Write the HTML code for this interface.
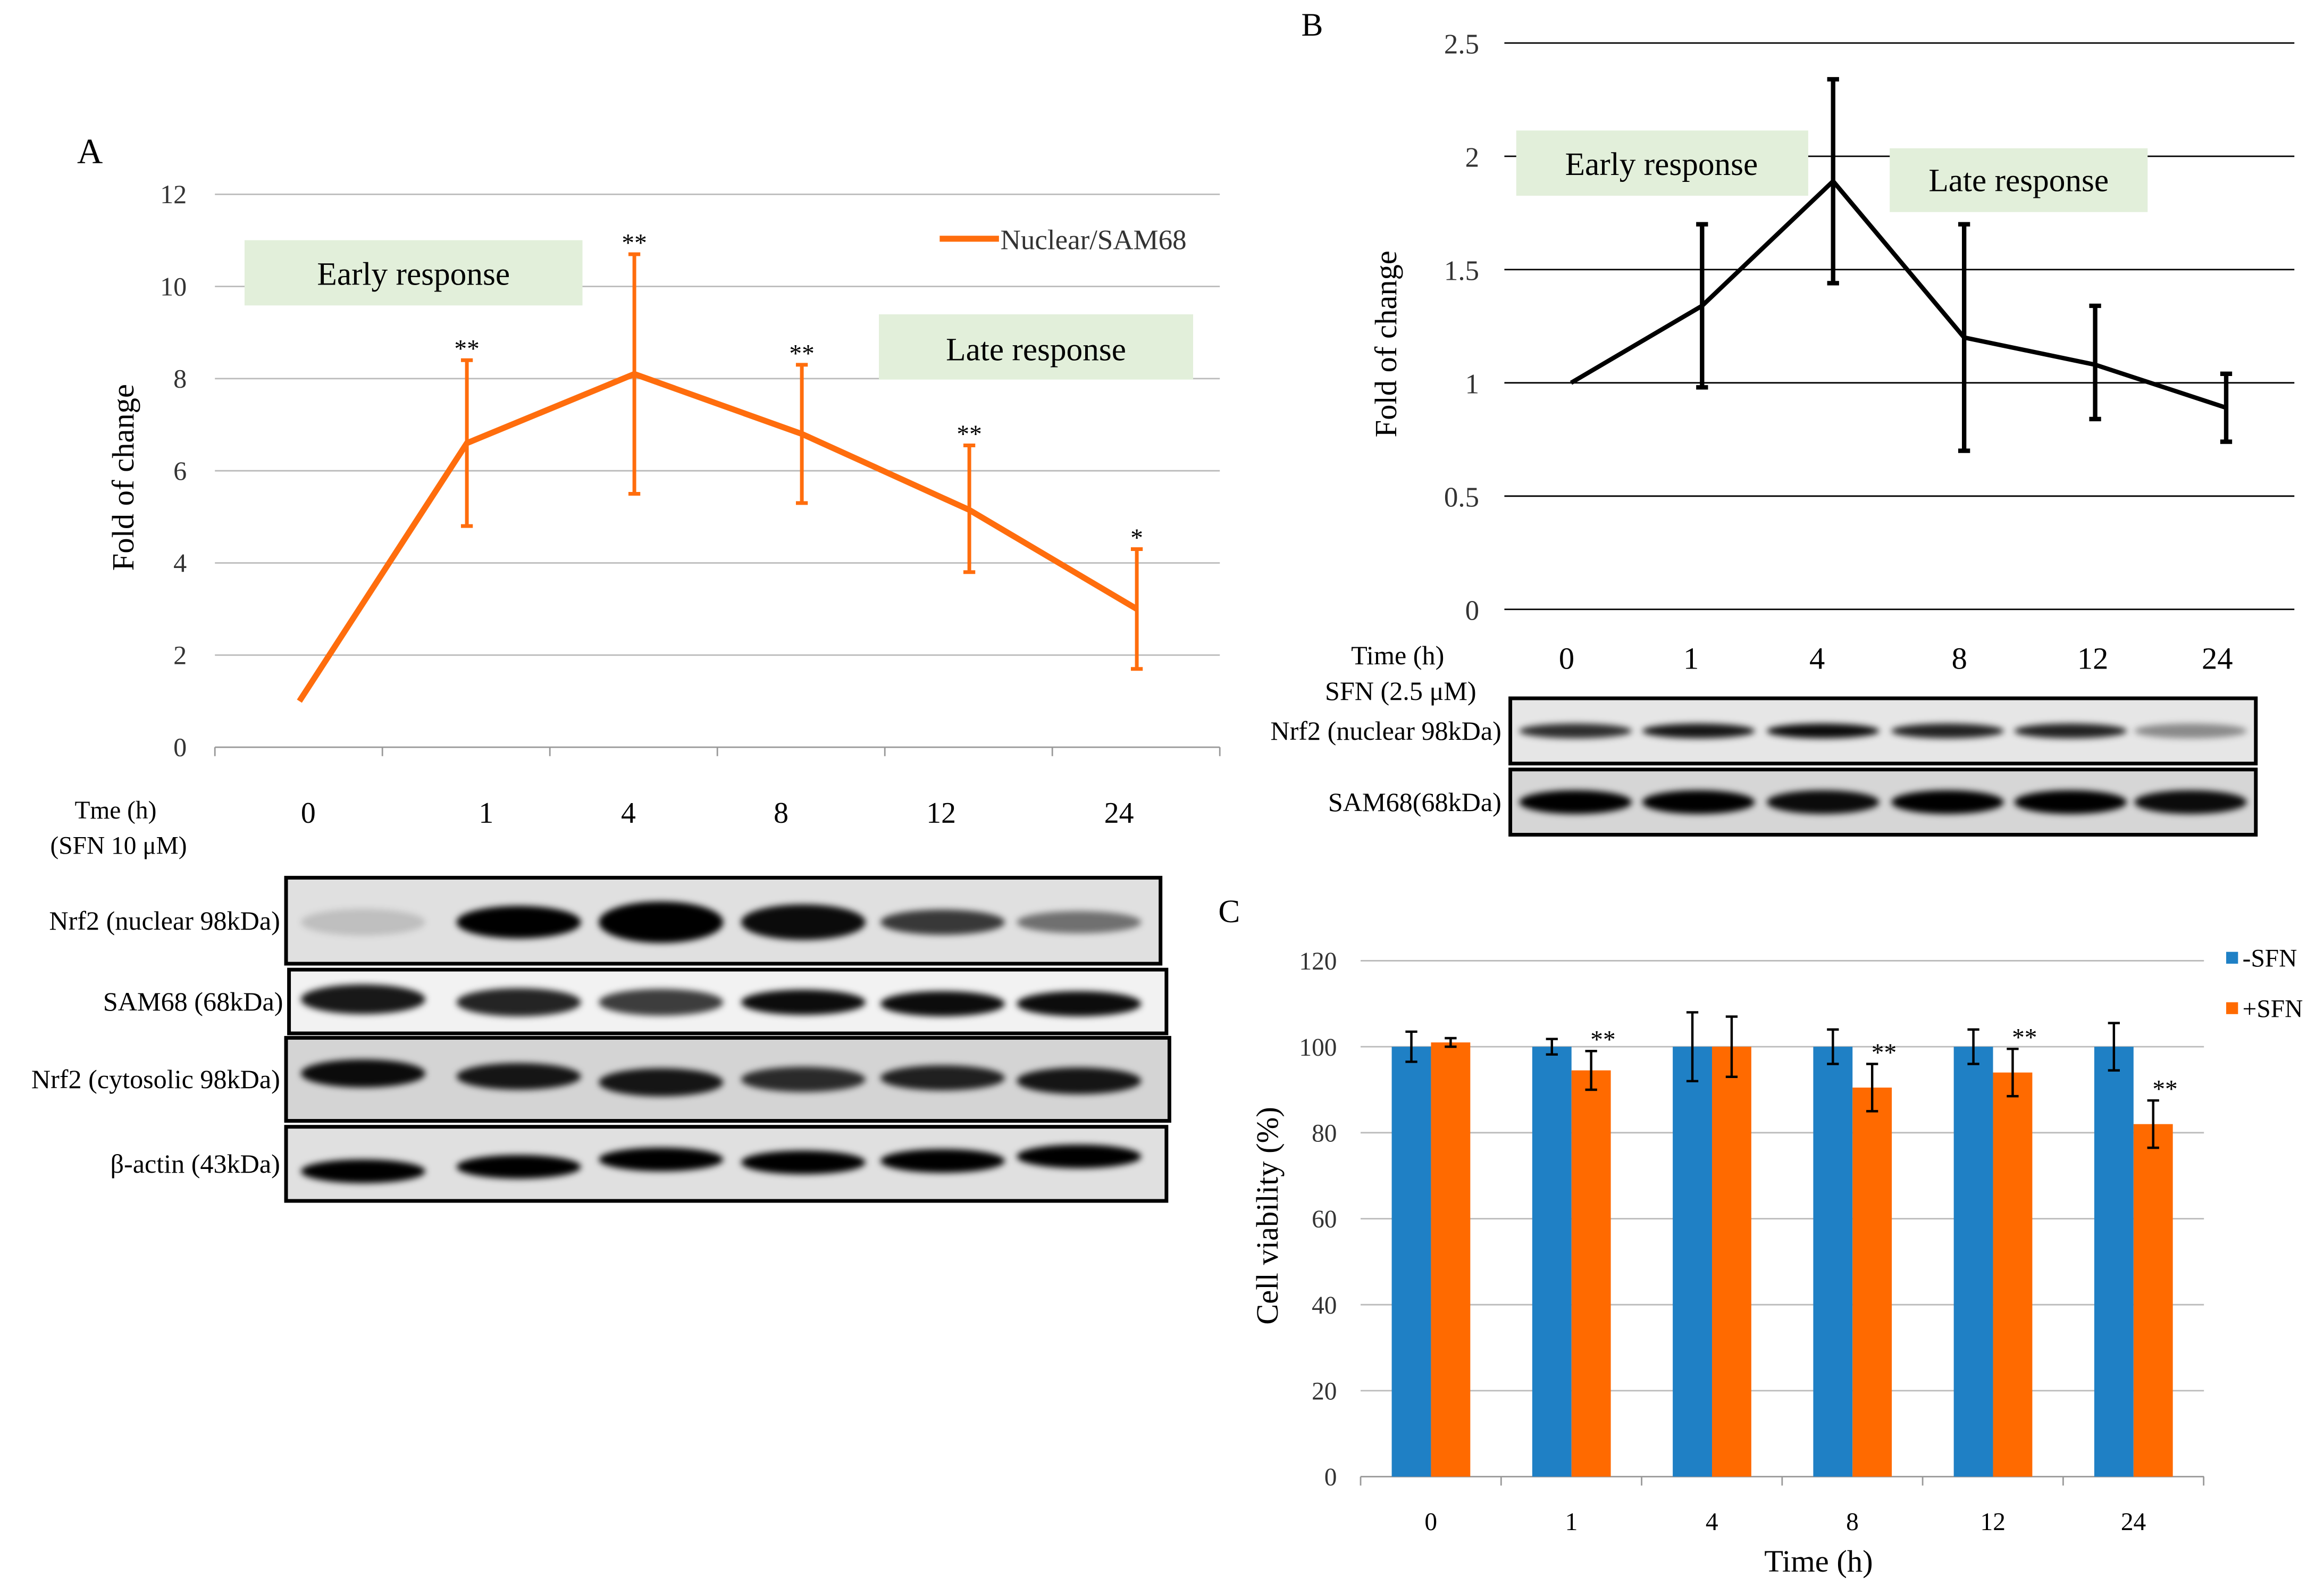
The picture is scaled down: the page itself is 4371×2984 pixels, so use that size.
<!DOCTYPE html>
<html><head><meta charset="utf-8"><style>
html,body{margin:0;padding:0;background:#fff;}
svg{display:block;font-family:"Liberation Serif",serif;}
</style></head><body>
<svg id="fig" width="4371" height="2984" viewBox="0 0 1568 1070.4" xmlns="http://www.w3.org/2000/svg">
<defs><filter id="blur" x="-20%" y="-50%" width="140%" height="200%"><feGaussianBlur stdDeviation="2.2"/></filter></defs>
<rect width="1568" height="1071" fill="#fff"/>
<g id="A"></g>
<g id="B"></g>
<g id="C"></g>
</svg>
<script>
// ---------- Panel A data ----------
const aCats = ["0","1","4","8","12","24"];
const aVals = [1, 6.6, 8.1, 6.8, 5.15, 3.0];
const aUp = [null, 8.4, 10.7, 8.3, 6.55, 4.3];
const aLo = [null, 4.8, 5.5, 5.3, 3.8, 1.7];
const aStars = ["", "**", "**", "**", "**", "*"];
const aTicks = [0,2,4,6,8,10,12];
const aBandsNuc = [0.15, 1, 1.1, 0.95, 0.75, 0.5];
// ---------- Panel B data ----------
const bCats = ["0","1","4","8","12","24"];
const bVals = [1, 1.34, 1.89, 1.2, 1.08, 0.89];
const bUp = [null, 1.7, 2.34, 1.7, 1.34, 1.04];
const bLo = [null, 0.98, 1.44, 0.7, 0.84, 0.74];
const bTicks = [0,0.5,1,1.5,2,2.5];
const bTickLabels = ["0","0.5","1","1.5","2","2.5"];
// ---------- Panel C data ----------
const cCats = ["0","1","4","8","12","24"];
const cMinus = [100,100,100,100,100,100];
const cMinusErr = [3.5,1.8,8,4,4,5.5];
const cPlus = [101,94.5,100,90.5,94,82];
const cPlusErr = [1,4.5,7,5.5,5.5,5.5];
const cStars = ["","**","","**","**","**"];
const cTicks = [0,20,40,60,80,100,120];

const NS="http://www.w3.org/2000/svg";
function mk(parent,tag,attrs,text){const e=document.createElementNS(NS,tag);for(const k in attrs)e.setAttribute(k,attrs[k]);if(text!==undefined)e.textContent=text;parent.appendChild(e);return e;}

// ===== Panel A =====
(function(){
const g=document.getElementById('A');
const y=v=>504-v*31.08, x=i=>202+i*113;
let t=mk(g,'text',{x:52,y:110,'font-size':24},'A');

aTicks.forEach(v=>{
 let l=mk(g,'line',{x1:145,x2:823,y1:y(v),y2:y(v),stroke:v===0?'#999':'#bbb','stroke-width':1});
 
 let tx=mk(g,'text',{x:126,y:y(v)+6,'font-size':18,'text-anchor':'end',fill:'#333'},String(v));
 
});
for(let i=0;i<=6;i++){let l=mk(g,'line',{x1:145+i*113,x2:145+i*113,y1:504,y2:510,stroke:'#999'});}
t=mk(g,'text',{x:0,y:0,'font-size':21,'text-anchor':'middle',transform:'translate(90,322) rotate(-90)'},'Fold of change');

let r=mk(g,'rect',{x:165,y:162,width:228,height:44,fill:'#e2efda'});
t=mk(g,'text',{x:279,y:192,'font-size':22,'text-anchor':'middle'},'Early response');
r=mk(g,'rect',{x:593,y:212,width:212,height:44,fill:'#e2efda'});
t=mk(g,'text',{x:699,y:243,'font-size':22,'text-anchor':'middle'},'Late response');
let l=mk(g,'line',{x1:634,x2:674,y1:161,y2:161,stroke:'#ff6d0d','stroke-width':4});
t=mk(g,'text',{x:675,y:168,'font-size':19,fill:'#333'},'Nuclear/SAM68');
let p=mk(g,'polyline',{points:aVals.map((v,i)=>x(i)+','+y(v)).join(' '),fill:'none',stroke:'#ff6d0d','stroke-width':4});

aVals.forEach((v,i)=>{
 if(aUp[i]==null)return;
 const xx=x(i);
 let e=mk(g,'path',{d:`M${xx} ${y(aUp[i])}V${y(aLo[i])}M${xx-4} ${y(aUp[i])}H${xx+4}M${xx-4} ${y(aLo[i])}H${xx+4}`,stroke:'#ff6d0d','stroke-width':2.5,fill:'none'});
 
 let s=mk(g,'text',{x:xx,y:y(aUp[i])-2,'font-size':17,'text-anchor':'middle'},aStars[i]);
 
});
const lx=[208,328,424,527,635,755];
aCats.forEach((c,i)=>{let s=mk(g,'text',{x:lx[i],y:555,'font-size':20,'text-anchor':'middle'},c);});
t=mk(g,'text',{x:78,y:552,'font-size':17,'text-anchor':'middle'},'Tme (h)');
t=mk(g,'text',{x:80,y:576,'font-size':17,'text-anchor':'middle'},'(SFN 10 μM)');
const blots=[
 {lab:'Nrf2 (nuclear 98kDa)',x:193,y:592,w:590,h:58,bg:'#e0e0e0',inten:aBandsNuc,cy:[30,30,30,30,30,30],bh:[14,18,24,20,13,11]},
 {lab:'SAM68   (68kDa)',x:195,y:654,w:592,h:43,bg:'#f2f2f2',inten:[0.9,0.85,0.75,0.95,0.95,0.95],cy:[20,22,22,22,23,23],bh:[16,15,14,13,13,13]},
 {lab:'Nrf2 (cytosolic 98kDa)',x:193,y:700,w:596,h:56,bg:'#d4d4d4',inten:[0.95,0.9,0.9,0.8,0.85,0.9],cy:[24,26,30,28,27,29],bh:[15,14,15,13,13,14]},
 {lab:'β-actin (43kDa)',x:193,y:760,w:594,h:50,bg:'#e0e0e0',inten:[1,1,1,1,1,1],cy:[30,27,22,24,23,20],bh:[12,12,12,12,12,12]}
];
const laneX=[245,350,446,542,636,728];
blots.forEach((b,bi)=>{
 let bx=mk(g,'rect',{x:b.x,y:b.y,width:b.w,height:b.h,fill:b.bg,stroke:'#000','stroke-width':2.5});
 
 b.inten.forEach((v,i)=>{let e=mk(g,'ellipse',{cx:laneX[i],cy:b.y+b.cy[i],rx:42,ry:b.bh[i]/2+2,fill:'#000','fill-opacity':v,filter:'url(#blur)'});
  });
 let s=mk(g,'text',{x:b.x-4,y:b.y+b.h/2+6,'font-size':18,'text-anchor':'end'},b.lab);
 
});
})();

// ===== Panel B =====
(function(){
const g=document.getElementById('B');
const y=v=>411-v*152.8, x=i=>1060+i*88.4;
let t=mk(g,'text',{x:878,y:24,'font-size':22},'B');
bTicks.forEach((v,k)=>{
 let l=mk(g,'line',{x1:1015,x2:1548,y1:y(v),y2:y(v),stroke:'#000','stroke-width':1});
 let s=mk(g,'text',{x:998,y:y(v)+7,'font-size':19,'text-anchor':'end',fill:'#333'},bTickLabels[k]);
});
t=mk(g,'text',{x:0,y:0,'font-size':21,'text-anchor':'middle',transform:'translate(942,232) rotate(-90)'},'Fold of change');
let r=mk(g,'rect',{x:1023,y:88,width:197,height:44,fill:'#e2efda'});
t=mk(g,'text',{x:1121,y:118,'font-size':22,'text-anchor':'middle'},'Early response');
r=mk(g,'rect',{x:1275,y:100,width:174,height:43,fill:'#e2efda'});
t=mk(g,'text',{x:1362,y:129,'font-size':22,'text-anchor':'middle'},'Late response');
let p=mk(g,'polyline',{points:bVals.map((v,i)=>x(i)+','+y(v)).join(' '),fill:'none',stroke:'#000','stroke-width':3});

bVals.forEach((v,i)=>{if(bUp[i]==null)return;const xx=x(i);
 let e=mk(g,'path',{d:`M${xx} ${y(bUp[i])}V${y(bLo[i])}M${xx-4} ${y(bUp[i])}H${xx+4}M${xx-4} ${y(bLo[i])}H${xx+4}`,stroke:'#000','stroke-width':3,fill:'none'});
 });
const lx=[1057,1141,1226,1322,1412,1496];
bCats.forEach((c,i)=>{let s=mk(g,'text',{x:lx[i],y:451,'font-size':21,'text-anchor':'middle'},c);});
t=mk(g,'text',{x:943,y:448,'font-size':18,'text-anchor':'middle'},'Time (h)');
t=mk(g,'text',{x:945,y:472,'font-size':18,'text-anchor':'middle'},'SFN (2.5 μM)');
const blots=[{lab:'Nrf2 (nuclear 98kDa)',y:471,h:44,bg:'#e6e6e6',inten:[0.8,0.9,0.95,0.85,0.85,0.4],bh:8},
 {lab:'SAM68(68kDa)',y:519,h:44,bg:'#d6d6d6',inten:[1,1,0.95,1,1,0.95],bh:14}];
const laneX=[1063,1146,1230,1314,1397,1478];
blots.forEach((b,bi)=>{
 let bx=mk(g,'rect',{x:1019,y:b.y,width:503,height:b.h,fill:b.bg,stroke:'#000','stroke-width':2.5});
 b.inten.forEach((v,i)=>{let e=mk(g,'ellipse',{cx:laneX[i],cy:b.y+b.h/2,rx:38,ry:b.bh/2+1,fill:'#000','fill-opacity':v,filter:'url(#blur)'});});
 let s=mk(g,'text',{x:1013,y:b.y+b.h/2+6,'font-size':18,'text-anchor':'end'},b.lab);
});
})();

// ===== Panel C =====
(function(){
const g=document.getElementById('C');
const y=v=>996-v*2.9, gx=i=>918+i*94.8;
let t=mk(g,'text',{x:822,y:622,'font-size':22},'C');
cTicks.forEach(v=>{
 let l=mk(g,'line',{x1:918,x2:1487,y1:y(v),y2:y(v),stroke:v===0?'#999':'#bbb'});
 let s=mk(g,'text',{x:902,y:y(v)+6,'font-size':17,'text-anchor':'end',fill:'#333'},String(v));
});
for(let i=0;i<=6;i++){let l=mk(g,'line',{x1:gx(i),x2:gx(i),y1:996,y2:1002,stroke:'#999'});}
t=mk(g,'text',{x:0,y:0,'font-size':21,'text-anchor':'middle',transform:'translate(862,820) rotate(-90)'},'Cell viability (%)');
const bw=26.5;
function err(xx,v,e){let p=mk(g,'path',{d:`M${xx} ${y(v+e)}V${y(v-e)}M${xx-4} ${y(v+e)}H${xx+4}M${xx-4} ${y(v-e)}H${xx+4}`,stroke:'#000','stroke-width':1.6,fill:'none'});}
cCats.forEach((c,i)=>{
 const x0=gx(i)+21;
 let b=mk(g,'rect',{x:x0,y:y(cMinus[i]),width:bw,height:996-y(cMinus[i]),fill:'#1f80c5'});
 let o=mk(g,'rect',{x:x0+bw,y:y(cPlus[i]),width:bw,height:996-y(cPlus[i]),fill:'#ff6a00'});
 err(x0+bw/2,cMinus[i],cMinusErr[i]);err(x0+bw*1.5,cPlus[i],cPlusErr[i]);
 if(cStars[i]){let s=mk(g,'text',{x:x0+bw*1.5+8,y:y(cPlus[i]+cPlusErr[i])-2,'font-size':17,'text-anchor':'middle'},cStars[i]);}
 let s=mk(g,'text',{x:gx(i)+47.4,y:1032,'font-size':17,'text-anchor':'middle'},c);
});
t=mk(g,'text',{x:1227,y:1060,'font-size':21,'text-anchor':'middle'},'Time (h)');
let r=mk(g,'rect',{x:1502,y:642,width:8,height:8,fill:'#1f80c5'});
t=mk(g,'text',{x:1513,y:652,'font-size':17},'-SFN');
r=mk(g,'rect',{x:1502,y:676,width:8,height:8,fill:'#ff6a00'});
t=mk(g,'text',{x:1513,y:686,'font-size':17},'+SFN');
})();
</script>
</body></html>
